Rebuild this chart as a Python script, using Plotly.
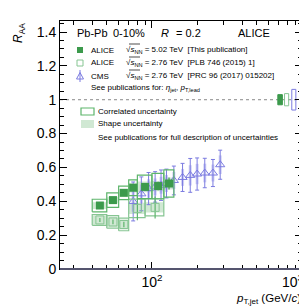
import plotly.graph_objects as go
import numpy as np

# ---------------- data ----------------
# ALICE 5.02 TeV (this publication)
a5_lo = [40, 50, 60, 70, 80, 100, 120]
a5_hi = [50, 60, 70, 80, 100, 120, 140]
a5_x = [45, 55, 65, 75, 90, 110, 130]
a5_y = [0.375, 0.407, 0.450, 0.480, 0.485, 0.490, 0.505]
a5_stat = [0.008, 0.010, 0.012, 0.015, 0.020, 0.025, 0.035]
a5_corr = [0.037, 0.043, 0.040, 0.046, 0.069, 0.075, 0.080]
a5_shape = [0.020, 0.020, 0.022, 0.028, 0.032, 0.030, 0.036]

# ALICE 2.76 TeV [PLB 746 (2015) 1]
a2_lo = [40, 50, 60, 70, 90]
a2_hi = [50, 60, 70, 90, 120]
a2_x = [45, 55, 65, 80, 105]
a2_y = [0.290, 0.278, 0.263, 0.358, 0.364]
a2_stat = [0.012, 0.014, 0.016, 0.070, 0.065]
a2_corr = [0.032, 0.037, 0.037, 0.055, 0.050]
a2_shape = [0.028, 0.030, 0.030, 0.033, 0.030]

# CMS 2.76 TeV [PRC 96 (2017) 015202]
cms_x = [75, 85, 95, 105, 115, 125, 140, 160, 180, 200, 225, 255, 285]
cms_y = [0.399, 0.444, 0.475, 0.485, 0.495, 0.505, 0.523, 0.541, 0.553, 0.561, 0.567, 0.567, 0.616]
cms_err = [0.115, 0.10, 0.095, 0.09, 0.09, 0.085, 0.085, 0.083, 0.10, 0.095, 0.087, 0.08, 0.086]
cms_sys = [0.06, 0.055, 0.055, 0.05, 0.05, 0.05, 0.05, 0.05, 0.06, 0.06, 0.055, 0.05, 0.055]

# normalisation uncertainties at R_AA = 1
norm_lo = [690, 765, 855]
norm_hi = [740, 815, 910]
norm_err = [0.030, 0.036, 0.061]

# axis ticks
y_ticks = [0, 0.2, 0.4, 0.6, 0.8, 1.0, 1.2, 1.4]
y_ticklabels = ["0", "0.2", "0.4", "0.6", "0.8", "1", "1.2", "1.4"]
x_minor = [30, 40, 50, 60, 70, 80, 90, 200, 300, 400, 500, 600, 700, 800, 900]

# ---------------- style ----------------
G_DARK = "#3c9a4c"
G_LINE = "#5db56b"
G_OPEN = "#86c592"
G_FILL = "rgba(120,190,130,0.35)"
B_LINE = "#7b7be0"
B_FILL = "rgba(150,150,235,0.45)"
FONT = "Liberation Sans"


def boxes(lo, hi, yc, dy):
    xs, ys = [], []
    for a, b, c, d in zip(lo, hi, yc, dy):
        xs += [a, b, b, a, a, None]
        ys += [c - d, c - d, c + d, c + d, c - d, None]
    return xs, ys


fig = go.Figure()

# shape uncertainties (filled)
for lo, hi, yc, dy in [(a2_lo, a2_hi, a2_y, a2_shape), (a5_lo, a5_hi, a5_y, a5_shape)]:
    xs, ys = boxes(lo, hi, yc, dy)
    fig.add_trace(go.Scatter(x=xs, y=ys, mode="lines", fill="toself", fillcolor=G_FILL,
                             line=dict(width=0), hoverinfo="skip", showlegend=False))

# CMS systematic (thick light bar) and stat bar with caps
fig.add_trace(go.Scatter(x=cms_x, y=cms_y, mode="markers", marker=dict(size=0.1, color=B_FILL),
                         error_y=dict(type="data", array=cms_sys, color=B_FILL, thickness=3, width=0),
                         showlegend=False, hoverinfo="skip"))
fig.add_trace(go.Scatter(x=cms_x, y=cms_y, mode="markers",
                         marker=dict(symbol="triangle-up-open", size=8, color=B_LINE, line=dict(width=1)),
                         error_y=dict(type="data", array=cms_err, color=B_LINE, thickness=1, width=2),
                         showlegend=False))

# correlated uncertainties (open boxes)
xs, ys = boxes(a2_lo, a2_hi, a2_y, a2_corr)
fig.add_trace(go.Scatter(x=xs, y=ys, mode="lines", line=dict(color=G_OPEN, width=1.2),
                         hoverinfo="skip", showlegend=False))
xs, ys = boxes(a5_lo, a5_hi, a5_y, a5_corr)
fig.add_trace(go.Scatter(x=xs, y=ys, mode="lines", line=dict(color=G_LINE, width=1.2),
                         hoverinfo="skip", showlegend=False))

# ALICE 2.76 points
fig.add_trace(go.Scatter(x=a2_x, y=a2_y, mode="markers",
                         marker=dict(symbol="square-open", size=8, color=G_OPEN, line=dict(width=1)),
                         error_y=dict(type="data", array=a2_stat, color=G_LINE, thickness=1.2, width=0),
                         showlegend=False))
# ALICE 5.02 points
fig.add_trace(go.Scatter(x=a5_x, y=a5_y, mode="markers",
                         marker=dict(symbol="square", size=8, color=G_DARK),
                         error_y=dict(type="data", array=a5_stat, color=G_DARK, thickness=1.2, width=0),
                         showlegend=False))

# normalisation boxes
for i, (a, b, d) in enumerate(zip(norm_lo, norm_hi, norm_err)):
    xs, ys = boxes([a], [b], [1.0], [d])
    if i == 0:
        fig.add_trace(go.Scatter(x=xs, y=ys, mode="lines", fill="toself", fillcolor=G_DARK,
                                 line=dict(color=G_DARK, width=1), hoverinfo="skip", showlegend=False))
    else:
        col = G_OPEN if i == 1 else B_LINE
        fig.add_trace(go.Scatter(x=xs, y=ys, mode="lines", line=dict(color=col, width=1),
                                 hoverinfo="skip", showlegend=False))

# ---------------- layout ----------------
W = H = 307
L, T = 52, 13
R, B = W - 294, H - 261
pw, ph = W - L - R, H - T - B


def px(x):  # image pixel -> paper
    return (x - L) / pw


def py(y):
    return (H - B - y) / ph


shapes = []
shapes.append(dict(type="line", xref="paper", yref="y", x0=0, x1=1, y0=1, y1=1,
                   line=dict(color="#888888", width=1, dash="dot"), layer="below"))

ann = []


def txt(x, y, s, size=8, xanchor="left", **kw):
    ann.append(dict(x=px(x), y=py(y), xref="paper", yref="paper", text=s, showarrow=False,
                    xanchor=xanchor, yanchor="middle", font=dict(size=size, color="black", family=FONT), **kw))


txt(67, 25, "Pb-Pb", size=11)
txt(103, 25, "0-10%", size=11)
txt(151, 25, "<i>R</i>", size=11)
txt(166, 25, "= 0.2", size=11)
txt(228, 25, "ALICE", size=11)

txt(81, 42, "ALICE")
txt(116, 42, "√<i>s</i><sub>NN</sub> = 5.02 TeV  [This publication]")
txt(81, 55, "ALICE")
txt(116, 55, "√<i>s</i><sub>NN</sub> = 2.76 TeV  [PLB 746 (2015) 1]")
txt(81, 68, "CMS")
txt(116, 68, "√<i>s</i><sub>NN</sub> = 2.76 TeV  [PRC 96 (2017) 015202]")
txt(81, 80, "See publications for: <i>η</i><sub>jet</sub>, <i>p</i><sub>T,lead</sub>")
txt(88, 103, "Correlated uncertainty")
txt(88, 116, "Shape uncertainty")
txt(88, 129, "See publications for full description of uncertainties")

# 10^3 label (drawn left of the frame edge as in the reference)
ann.append(dict(x=px(298), y=py(273), xref="paper", yref="paper", showarrow=False,
                text="10<sup>3</sup>", xanchor="right", yanchor="middle",
                font=dict(size=14, family=FONT, color="black")))
# axis titles
ann.append(dict(x=px(295), y=py(291), xref="paper", yref="paper", showarrow=False,
                text="<i>p</i><sub>T,jet</sub> (GeV/<i>c</i>)", xanchor="right", yanchor="middle",
                font=dict(size=11.5, family=FONT, color="black")))
ann.append(dict(x=px(11), y=py(13), xref="paper", yref="paper", showarrow=False,
                text="<i>R</i><sub>AA</sub>", textangle=-90, xanchor="center", yanchor="top",
                font=dict(size=12, family=FONT, color="black")))

# legend markers as paper shapes
shapes.append(dict(type="rect", xref="paper", yref="paper", x0=px(69), x1=px(75), y0=py(45), y1=py(39),
                   line=dict(width=0), fillcolor=G_DARK))
shapes.append(dict(type="rect", xref="paper", yref="paper", x0=px(69), x1=px(75), y0=py(58), y1=py(52),
                   line=dict(color=G_OPEN, width=1), fillcolor="rgba(0,0,0,0)"))
shapes.append(dict(type="path", xref="paper", yref="paper",
                   path=f"M {px(68.5)},{py(71)} L {px(75.5)},{py(71)} L {px(72)},{py(64.5)} Z",
                   line=dict(color=B_LINE, width=1), fillcolor="rgba(0,0,0,0)"))
shapes.append(dict(type="line", xref="paper", yref="paper", x0=px(72), x1=px(72), y0=py(62), y1=py(74),
                   line=dict(color=B_LINE, width=1)))
shapes.append(dict(type="rect", xref="paper", yref="paper", x0=px(73), x1=px(86), y0=py(107), y1=py(100),
                   line=dict(color=G_LINE, width=1.2), fillcolor="rgba(0,0,0,0)"))
shapes.append(dict(type="rect", xref="paper", yref="paper", x0=px(73), x1=px(86), y0=py(120), y1=py(112),
                   line=dict(width=0), fillcolor=G_FILL))
# overlines for sqrt
for y in [42, 55, 68]:
    shapes.append(dict(type="line", xref="paper", yref="paper", x0=px(121), x1=px(132), y0=py(y - 6),
                       y1=py(y - 6), line=dict(color="black", width=0.7)))
shapes.append(dict(type="line", xref="paper", yref="paper", x0=0, x1=1, y0=0, y1=0,
                   line=dict(color="#55556f", width=2)))

axis_common = dict(showline=True, linecolor="black", linewidth=1, mirror="ticks", ticks="inside",
                   tickcolor="black", ticklen=7, showgrid=False, zeroline=False, automargin=False,
                   autorange=False, tickfont=dict(size=14, family=FONT, color="black"))

fig.update_layout(
    width=W, height=H, margin=dict(l=L, r=R, t=T, b=B, autoexpand=False),
    paper_bgcolor="white", plot_bgcolor="white",
    xaxis=dict(type="log", range=[float(np.log10(24.4)), 3.0], tickvals=[100, 1000],
               ticktext=["10<sup>2</sup>", " "],
               minor=dict(tickvals=x_minor, ticks="inside", ticklen=4, tickcolor="black", showgrid=False),
               **axis_common),
    yaxis=dict(range=[0.0, 1.465], tickvals=y_ticks, ticktext=y_ticklabels,
               minor=dict(dtick=0.05, tick0=0, ticks="inside", ticklen=4, tickcolor="black", showgrid=False),
               **axis_common),
    annotations=ann,
    shapes=shapes,
    showlegend=False,
)

fig.write_html("out.html")
